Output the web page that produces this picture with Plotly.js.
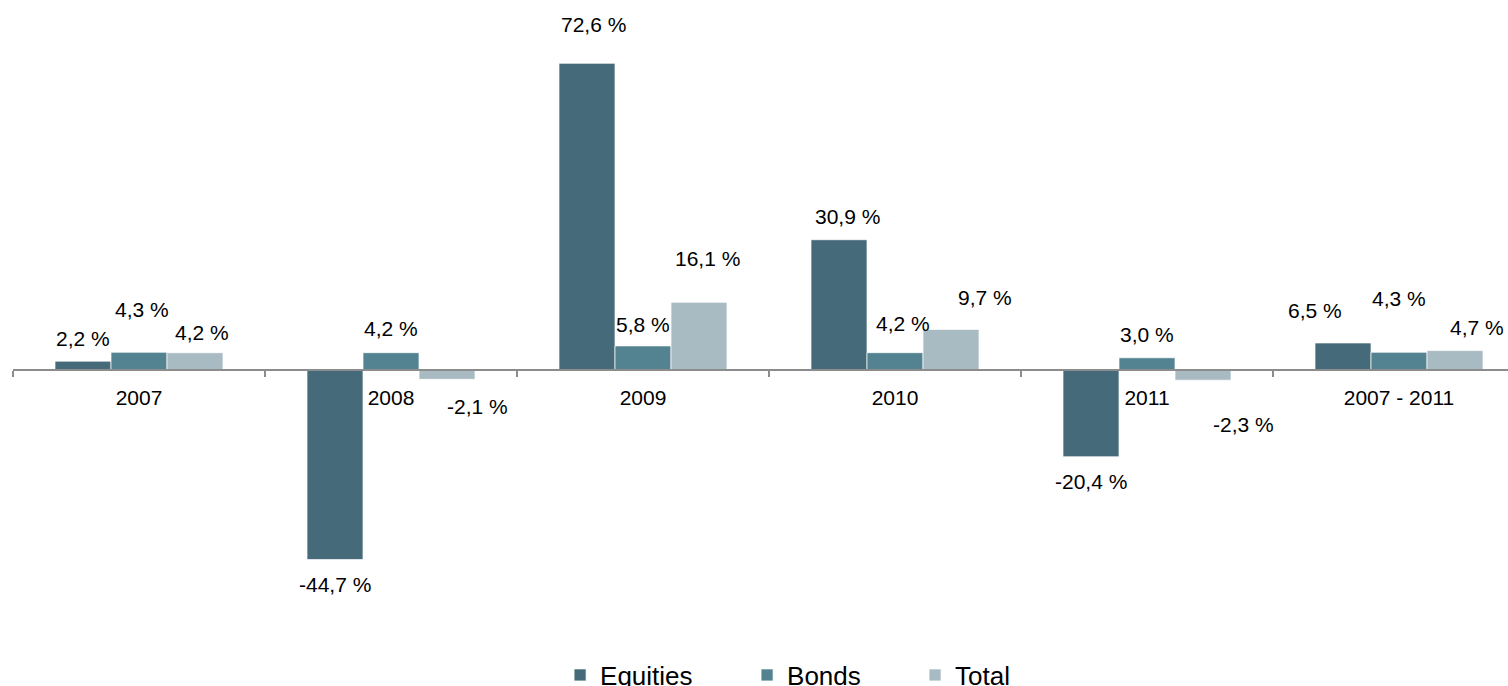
<!DOCTYPE html>
<html>
<head>
<meta charset="utf-8">
<script src="https://cdn.plot.ly/plotly-3.0.1.min.js"></script>
<style>
  html, body { margin: 0; padding: 0; background: #fff; }
  #chart { width: 1508px; height: 686px; }
</style>
</head>
<body>
<div id="chart"></div>
<script>
// ---- data ----
const categories = ['2007', '2008', '2009', '2010', '2011', '2007 - 2011'];
const seriesNames = ['Equities', 'Bonds', 'Total'];
const equities = [2.2, -44.7, 72.6, 30.9, -20.4, 6.5];
const bonds    = [4.3, 4.2, 5.8, 4.2, 3.0, 4.3];
const total    = [4.2, -2.1, 16.1, 9.7, -2.3, 4.7];

// ---- style / layout ----
const colors = ['#456a79', '#538291', '#a9bbc2'];
// manual label placement tweaks [dx px, distance px from bar end] (as in the original)
const labelTweaks = [
  [[0, 23], [3, 43], [7, 20]],
  [[0, 25], [0, 24], [30, 27]],
  [[6, 39], [0, 21], [8, 44]],
  [[8, 23], [8, 29], [34, 32]],
  [[0, 25], [0, 23], [40, 44]],
  [[-28, 32], [0, 54], [22, 23]]
];
const legendLeft = [0.3714, 0.4954, 0.6068]; // container fractions
const legendIds = ['legend', 'legend2', 'legend3'];
const yMin = -50, yMax = 80;
const fontFam = 'Arial, "Liberation Sans", sans-serif';
const allSeries = [equities, bonds, total];

const fmt = v => v.toFixed(1).replace('.', ',') + ' %';

const traces = allSeries.map((vals, s) => ({
  type: 'bar',
  name: seriesNames[s],
  x: categories,
  y: vals,
  legend: legendIds[s],
  marker: { color: colors[s], line: { color: 'rgba(255,255,255,0.7)', width: 1 } },
  hoverinfo: 'skip'
}));

const annotations = [];
allSeries.forEach((vals, s) => {
  vals.forEach((v, i) => {
    const tw = labelTweaks[i][s];
    annotations.push({
      x: i + (s - 1) * 2 / 9,
      y: v,
      xref: 'x', yref: 'y',
      text: fmt(v),
      showarrow: false,
      xanchor: 'center', yanchor: 'middle',
      xshift: tw[0],
      yshift: v >= 0 ? tw[1] : -tw[1],
      font: { family: fontFam, size: 21, color: '#000' }
    });
  });
});

const plotW = 1508 - 13;
const catW = 252;

const layout = {
  width: 1508, height: 686,
  margin: { l: 13, r: 0, t: 32, b: 104, pad: 0, autoexpand: false },
  paper_bgcolor: '#fff', plot_bgcolor: '#fff',
  barmode: 'group',
  bargap: 1 / 3,
  bargroupgap: 0,
  showlegend: true,
  xaxis: {
    type: 'category',
    range: [-0.5, -0.5 + plotW / catW],
    anchor: 'free',
    position: (0 - yMin) / (yMax - yMin),
    showline: true, linecolor: '#8c8c8c', linewidth: 2,
    ticks: 'outside', ticklen: 6, tickwidth: 2, tickcolor: '#8c8c8c',
    tickson: 'boundaries',
    ticklabelstandoff: 8,
    tickfont: { family: fontFam, size: 21, color: '#000' },
    showgrid: false, zeroline: false, fixedrange: true
  },
  yaxis: {
    range: [yMin, yMax],
    visible: false,
    showgrid: false, zeroline: false, fixedrange: true
  },
  annotations: annotations
};
legendIds.forEach((id, s) => {
  layout[id] = {
    orientation: 'h',
    xref: 'container', yref: 'container',
    x: legendLeft[s], xanchor: 'left',
    y: 0.016, yanchor: 'middle',
    bgcolor: 'rgba(0,0,0,0)',
    font: { family: fontFam, size: 26, color: '#000' },
    itemclick: false, itemdoubleclick: false
  };
});

Plotly.newPlot('chart', traces, layout, { displayModeBar: false, staticPlot: true });
</script>
</body>
</html>
